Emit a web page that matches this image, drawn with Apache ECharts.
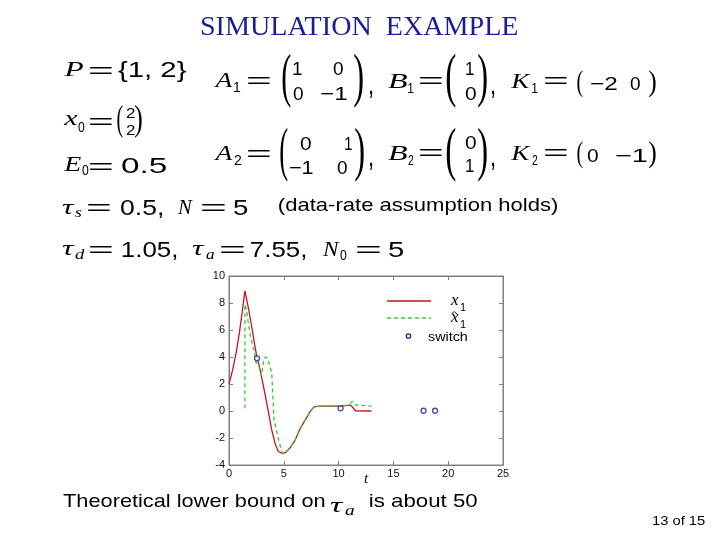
<!DOCTYPE html>
<html><head><meta charset="utf-8">
<script src="https://cdn.jsdelivr.net/npm/echarts@6/dist/echarts.min.js"></script>
<style>html,body{margin:0;padding:0;background:#fff}#c{width:720px;height:540px}</style>
</head><body><div id="c"></div>
<script>
// ---- data ----
const x1Times  = [0, 0.35, 0.65, 0.95, 1.2, 1.45, 1.6, 1.8, 2.1, 2.35, 2.56, 2.75, 3.0, 3.3, 3.6, 3.9, 4.2, 4.5, 4.85, 5.2, 5.6, 6.0, 6.5, 7.0, 7.4, 7.75, 8.3, 10.2, 11.1, 11.55, 13.0];
const x1Values = [2.0, 3.1, 4.3, 5.8, 7.3, 8.9, 8.3, 7.5, 6.1, 4.9, 3.9, 3.4, 2.4, 1.2, -0.1, -1.4, -2.4, -3.0, -3.15, -3.05, -2.7, -2.2, -1.3, -0.6, -0.05, 0.3, 0.36, 0.36, 0.44, 0.02, 0.0];
const x1HatTimes  = [1.45, 1.45, 1.6, 1.8, 2.0, 2.25, 2.45, 2.7, 2.95, 3.05, 3.2, 3.4, 3.6, 3.9, 4.1, 4.4, 4.65, 4.85, 5.2, 5.6, 6.0, 6.5, 7.0, 7.4, 7.75, 8.3, 10.2, 11.0, 11.15, 11.4, 11.55, 11.7, 13.0];
const x1HatValues = [0.2, 7.9, 7.5, 6.3, 5.4, 4.6, 3.6, 3.4, 2.6, 2.6, 3.9, 4.0, 3.7, 2.8, -0.6, -1.7, -2.5, -3.15, -3.05, -2.7, -2.2, -1.3, -0.6, -0.05, 0.3, 0.36, 0.36, 0.44, 0.68, 0.68, 0.44, 0.36, 0.36];
const switchTimes  = [2.56, 10.18, 17.75, 18.8];
const switchValues = [3.9, 0.2, 0.02, 0.02];
const xRange = [0, 25], xStep = 5;
const yRange = [-4, 10], yStep = 2;

// ---- text helpers ----
const ctx = document.createElement('canvas').getContext('2d');
function meas(text, font) {
  ctx.font = font; ctx.textBaseline = 'middle';
  const m = ctx.measureText(text);
  return { l: m.actualBoundingBoxLeft, r: m.actualBoundingBoxRight, a: m.actualBoundingBoxAscent, d: m.actualBoundingBoxDescent };
}
function mk(text, font, X, Y, sx, sy, color) {
  return { type: 'text', x: X, y: Y, scaleX: sx, scaleY: sy, silent: true, z: 10,
    style: { text: text, font: font, fill: color || '#000', align: 'left', textAlign: 'left', verticalAlign: 'middle', textVerticalAlign: 'middle' } };
}
// fit ink width to [x0,x1]; vertical ink centre (of ref string) at yc
function fit(text, font, x0, x1, yc, ref, color) {
  const m = meas(text, font);
  const sx = (x1 - x0) / (m.l + m.r);
  const mr = ref ? meas(ref, font) : m;
  const Y = yc - (mr.d - mr.a) / 2;
  return mk(text, font, x0 + m.l * sx, Y, sx, 1, color);
}
// fit ink box exactly
function box(text, font, x0, x1, y0, y1, color) {
  const m = meas(text, font);
  const sx = (x1 - x0) / (m.l + m.r);
  const sy = (y1 - y0) / (m.a + m.d);
  return mk(text, font, x0 + m.l * sx, y0 + m.a * sy, sx, sy, color);
}

const MI = 'italic 22px "Liberation Serif"';
const NUM = '22px "Liberation Sans"';
const MAT = '19px "Liberation Sans"';
const SUB = '14px "Liberation Sans"';
const SUBI = 'italic 15px "Liberation Serif"';
const SMALL = '15px "Liberation Sans"';
const PAR = '40px "Liberation Serif"';
const TXT = '19px "Liberation Sans"';

const G = [];
// title
G.push(box('SIMULATION  EXAMPLE', '27px "Liberation Serif"', 201, 518, 17, 35, '#1c1c99'));
// row 1
G.push(fit('P', MI, 63, 83, 69));
G.push(fit('=', NUM, 90, 112, 70));
G.push(fit('{1, 2}', NUM, 118, 186, 69, '0'));
// row 2
G.push(fit('x', MI, 63, 78, 120));
G.push(fit('0', SUB, 78, 85, 127));
G.push(fit('=', NUM, 90, 112, 121));
G.push(box('(', PAR, 117, 123, 105, 138));
G.push(fit('2', SMALL, 126, 135, 113));
G.push(fit('2', SMALL, 126, 135, 130));
G.push(box(')', PAR, 135, 142, 105, 138));
// row 3
G.push(fit('E', MI, 63, 82, 164));
G.push(fit('0', SUB, 82, 89, 170));
G.push(fit('=', NUM, 90, 112, 166));
G.push(fit('0.5', NUM, 121, 167, 165.5, '0'));
// row 4
G.push(fit('\u03c4', MI, 62, 75, 209));
G.push(fit('s', SUBI, 75, 82, 213));
G.push(fit('=', NUM, 88, 110, 207));
G.push(fit('0.5,', NUM, 120, 163, 207.5, '0'));
G.push(fit('N', MI, 177, 193, 207));
G.push(fit('=', NUM, 202, 225, 207));
G.push(fit('5', NUM, 233, 248, 207));
G.push(fit('(data-rate assumption holds)', TXT, 279, 558, 206.5, '('));
// row 5
G.push(fit('\u03c4', MI, 62, 75, 250));
G.push(fit('d', SUBI, 75, 85, 254));
G.push(fit('=', NUM, 90, 112, 249));
G.push(fit('1.05,', NUM, 122, 177, 249, '0'));
G.push(fit('\u03c4', MI, 192, 205, 250));
G.push(fit('a', SUBI, 206, 214, 255));
G.push(fit('=', NUM, 221, 244, 249));
G.push(fit('7.55,', NUM, 251, 306, 249, '0'));
G.push(fit('N', MI, 322, 340, 249));
G.push(fit('0', SUB, 340, 347, 255));
G.push(fit('=', NUM, 357, 380, 249));
G.push(fit('5', NUM, 388, 404, 249));
// A1
G.push(fit('A', MI, 213, 233, 80));
G.push(fit('1', SUB, 234, 241, 87));
G.push(fit('=', NUM, 248, 270, 80));
G.push(box('(', PAR, 282, 291, 53, 108));
G.push(fit('1', MAT, 293, 302, 68));
G.push(fit('0', MAT, 333, 343, 68));
G.push(fit('0', MAT, 293, 303, 93));
G.push(fit('\u22121', MAT, 320, 347, 93, '1'));
G.push(box(')', PAR, 354, 363, 53, 108));
G.push(box(',', NUM, 369, 373, 90, 98));
// B1
G.push(fit('B', MI, 388, 407, 81));
G.push(fit('1', SUB, 408, 414, 88));
G.push(fit('=', NUM, 420, 442, 80));
G.push(box('(', PAR, 446, 456, 53, 108));
G.push(fit('1', MAT, 466, 474, 68));
G.push(fit('0', MAT, 465, 476, 93));
G.push(box(')', PAR, 478, 487, 53, 108));
G.push(box(',', NUM, 491, 495, 90, 98));
// K1
G.push(fit('K', MI, 510, 531, 81));
G.push(fit('1', SUB, 532, 538, 88));
G.push(fit('=', NUM, 545, 567, 80));
G.push(box('(', PAR, 577, 583, 70, 98));
G.push(fit('\u22122', MAT, 590, 617, 83, '2'));
G.push(fit('0', MAT, 630, 640, 83));
G.push(box(')', PAR, 649, 656, 70, 98));
// A2
G.push(fit('A', MI, 213, 233, 153));
G.push(fit('2', SUB, 234, 242, 160));
G.push(fit('=', NUM, 248, 270, 153));
G.push(box('(', PAR, 280, 288, 128, 182));
G.push(fit('0', MAT, 300, 311, 143));
G.push(fit('1', MAT, 345, 352, 143));
G.push(fit('\u22121', MAT, 289, 313, 167, '1'));
G.push(fit('0', MAT, 337, 347, 167));
G.push(box(')', PAR, 355, 364, 128, 182));
G.push(box(',', NUM, 369, 373, 162, 170));
// B2
G.push(fit('B', MI, 388, 407, 153));
G.push(fit('2', SUB, 408, 414, 160));
G.push(fit('=', NUM, 420, 442, 152));
G.push(box('(', PAR, 446, 456, 127, 182));
G.push(fit('0', MAT, 465, 476, 142));
G.push(fit('1', MAT, 466, 474, 165));
G.push(box(')', PAR, 478, 487, 127, 182));
G.push(box(',', NUM, 491, 495, 162, 170));
// K2
G.push(fit('K', MI, 510, 531, 153));
G.push(fit('2', SUB, 532, 538, 160));
G.push(fit('=', NUM, 545, 567, 152));
G.push(box('(', PAR, 577, 583, 141, 169));
G.push(fit('0', MAT, 587, 598, 155));
G.push(fit('\u22121', MAT, 615, 647, 155, '1'));
G.push(box(')', PAR, 649, 656, 141, 169));
// bottom text
G.push(fit('Theoretical lower bound on', TXT, 63, 325, 500, 'T'));
G.push(fit('\u03c4', MI, 330, 344, 507));
G.push(fit('a', SUBI, 345, 354, 511));
G.push(fit('is about 50', TXT, 370, 477, 500, '0'));
G.push(fit('13 of 15', '13px "Liberation Sans"', 652, 705, 520, '1'));
// legend (drawn manually, as in the reference)
const RED = '#cc1122', GREEN = '#33cc33', NAVY = '#1e1e8c';
G.push({ type: 'line', silent: true, z: 10, shape: { x1: 387, y1: 301, x2: 431, y2: 301 }, style: { stroke: RED, lineWidth: 1.6 } });
G.push(fit('x', 'italic 17px "Liberation Serif"', 450, 459, 301));
G.push(fit('1', '11px "Liberation Sans"', 460, 466, 307));
G.push({ type: 'line', silent: true, z: 10, shape: { x1: 387, y1: 318, x2: 431, y2: 318 }, style: { stroke: GREEN, lineWidth: 1.6, lineDash: [4, 3] } });
G.push(fit('x', 'italic 17px "Liberation Serif"', 450, 459, 318));
G.push(box('^', '12px "Liberation Sans"', 451, 458, 311, 314));
G.push(fit('1', '11px "Liberation Sans"', 460, 466, 324));
G.push({ type: 'circle', silent: true, z: 10, shape: { cx: 408.5, cy: 336, r: 2.2 }, style: { stroke: NAVY, fill: '#fff', lineWidth: 1.3 } });
G.push(fit('switch', '12px "Liberation Sans"', 428, 467, 336));

const pairs = (a, b) => a.map((v, i) => [v, b[i]]);
const axisCommon = {
  axisLine: { onZero: false, lineStyle: { color: '#808080', width: 1 } },
  axisTick: { inside: true, length: 4, lineStyle: { color: '#808080' } },
  splitLine: { show: false }
};
const chart = echarts.init(document.getElementById('c'), null, { renderer: 'canvas' });
chart.setOption({
  animation: false,
  backgroundColor: '#fff',
  grid: { left: 229, right: 217, top: 276, bottom: 75, show: true, borderColor: '#808080', borderWidth: 1, containLabel: false, outerBoundsMode: 'none' },
  xAxis: [
    Object.assign({ type: 'value', min: xRange[0], max: xRange[1], interval: xStep,
      axisLabel: { color: '#111', fontSize: 11, fontFamily: 'Liberation Sans', margin: 3 },
      name: 't', nameLocation: 'middle', nameGap: 7, nameMoveOverlap: false,
      nameTextStyle: { fontFamily: 'Liberation Serif', fontStyle: 'italic', fontSize: 15, color: '#000', verticalAlign: 'top' } }, axisCommon),
    Object.assign({ type: 'value', position: 'top', min: xRange[0], max: xRange[1], interval: xStep, axisLabel: { show: false } }, axisCommon)
  ],
  yAxis: [
    Object.assign({ type: 'value', min: yRange[0], max: yRange[1], interval: yStep,
      axisLabel: { color: '#111', fontSize: 11, fontFamily: 'Liberation Sans', margin: 4 } }, axisCommon),
    Object.assign({ type: 'value', position: 'right', min: yRange[0], max: yRange[1], interval: yStep, axisLabel: { show: false } }, axisCommon)
  ],
  series: [
    { name: 'x1', type: 'line', data: pairs(x1Times, x1Values), symbol: 'none', lineStyle: { color: RED, width: 1.3 }, z: 3 },
    { name: 'x1hat', type: 'line', data: pairs(x1HatTimes, x1HatValues), symbol: 'none', lineStyle: { color: GREEN, width: 1.3, type: [4, 3] }, z: 4 },
    { name: 'switch', type: 'scatter', data: pairs(switchTimes, switchValues), symbol: 'circle', symbolSize: 5,
      itemStyle: { color: '#fff', borderColor: NAVY, borderWidth: 1.3 }, z: 5 }
  ],
  graphic: { elements: G }
});
</script>
</body></html>
